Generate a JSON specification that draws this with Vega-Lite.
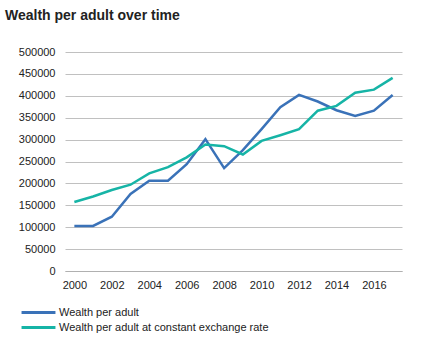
{
  "$schema": "https://vega.github.io/schema/vega-lite/v6.json",
  "autosize": {"type": "none"},
  "width": 337,
  "height": 219,
  "padding": {"left": 65, "top": 52, "right": 20, "bottom": 87},
  "background": "white",
  "title": {
    "text": "Wealth per adult over time",
    "anchor": "start",
    "frame": "group",
    "dx": -60,
    "offset": 23,
    "font": "Liberation Sans",
    "fontSize": 14,
    "fontWeight": "bold",
    "color": "#222222"
  },
  "data": {
    "values": [
      {"year": 2000, "series": "Wealth per adult", "value": 103000},
      {"year": 2001, "series": "Wealth per adult", "value": 103000},
      {"year": 2002, "series": "Wealth per adult", "value": 124000},
      {"year": 2003, "series": "Wealth per adult", "value": 176000},
      {"year": 2004, "series": "Wealth per adult", "value": 206000},
      {"year": 2005, "series": "Wealth per adult", "value": 206000},
      {"year": 2006, "series": "Wealth per adult", "value": 244000},
      {"year": 2007, "series": "Wealth per adult", "value": 301000},
      {"year": 2008, "series": "Wealth per adult", "value": 235000},
      {"year": 2009, "series": "Wealth per adult", "value": 276000},
      {"year": 2010, "series": "Wealth per adult", "value": 324000},
      {"year": 2011, "series": "Wealth per adult", "value": 374000},
      {"year": 2012, "series": "Wealth per adult", "value": 402000},
      {"year": 2013, "series": "Wealth per adult", "value": 387000},
      {"year": 2014, "series": "Wealth per adult", "value": 367000},
      {"year": 2015, "series": "Wealth per adult", "value": 354000},
      {"year": 2016, "series": "Wealth per adult", "value": 366000},
      {"year": 2017, "series": "Wealth per adult", "value": 402000},
      {"year": 2000, "series": "Wealth per adult at constant exchange rate", "value": 157500},
      {"year": 2001, "series": "Wealth per adult at constant exchange rate", "value": 170000},
      {"year": 2002, "series": "Wealth per adult at constant exchange rate", "value": 185000},
      {"year": 2003, "series": "Wealth per adult at constant exchange rate", "value": 197000},
      {"year": 2004, "series": "Wealth per adult at constant exchange rate", "value": 223000},
      {"year": 2005, "series": "Wealth per adult at constant exchange rate", "value": 237000},
      {"year": 2006, "series": "Wealth per adult at constant exchange rate", "value": 259500},
      {"year": 2007, "series": "Wealth per adult at constant exchange rate", "value": 289000},
      {"year": 2008, "series": "Wealth per adult at constant exchange rate", "value": 285000},
      {"year": 2009, "series": "Wealth per adult at constant exchange rate", "value": 266000},
      {"year": 2010, "series": "Wealth per adult at constant exchange rate", "value": 297000},
      {"year": 2011, "series": "Wealth per adult at constant exchange rate", "value": 310000},
      {"year": 2012, "series": "Wealth per adult at constant exchange rate", "value": 324000},
      {"year": 2013, "series": "Wealth per adult at constant exchange rate", "value": 366000},
      {"year": 2014, "series": "Wealth per adult at constant exchange rate", "value": 377000},
      {"year": 2015, "series": "Wealth per adult at constant exchange rate", "value": 407000},
      {"year": 2016, "series": "Wealth per adult at constant exchange rate", "value": 414000},
      {"year": 2017, "series": "Wealth per adult at constant exchange rate", "value": 441000}
    ]
  },
  "mark": {"type": "line", "strokeWidth": 2.5},
  "encoding": {
    "x": {
      "field": "year",
      "type": "ordinal",
      "scale": {"type": "point", "padding": 0.5},
      "axis": {
        "title": null,
        "values": [2000, 2002, 2004, 2006, 2008, 2010, 2012, 2014, 2016],
        "labelAngle": 0,
        "ticks": false,
        "domain": true,
        "domainColor": "#b0b0b0",
        "domainWidth": 1,
        "labelPadding": 8,
        "labelFont": "Liberation Sans",
        "labelFontSize": 11,
        "labelColor": "#222222",
        "grid": false
      }
    },
    "y": {
      "field": "value",
      "type": "quantitative",
      "scale": {"domain": [0, 500000], "nice": false},
      "axis": {
        "title": null,
        "values": [0, 50000, 100000, 150000, 200000, 250000, 300000, 350000, 400000, 450000, 500000],
        "format": "d",
        "ticks": false,
        "domain": false,
        "grid": true,
        "gridColor": "#c0c0c0",
        "gridWidth": 1,
        "labelPadding": 10,
        "labelFont": "Liberation Sans",
        "labelFontSize": 11,
        "labelColor": "#222222"
      }
    },
    "color": {
      "field": "series",
      "type": "nominal",
      "scale": {
        "domain": ["Wealth per adult", "Wealth per adult at constant exchange rate"],
        "range": ["#3a72b8", "#16b4a6"]
      },
      "legend": {
        "title": null,
        "orient": "none",
        "legendX": -45,
        "legendY": 254,
        "symbolType": "stroke",
        "symbolSize": 1150,
        "symbolStrokeWidth": 3,
        "clipHeight": 13,
        "labelFont": "Liberation Sans",
        "labelFontSize": 11,
        "labelColor": "#222222",
        "labelOffset": 2,
        "rowPadding": 2,
        "labelLimit": 400
      }
    }
  },
  "config": {"view": {"stroke": null}}
}
